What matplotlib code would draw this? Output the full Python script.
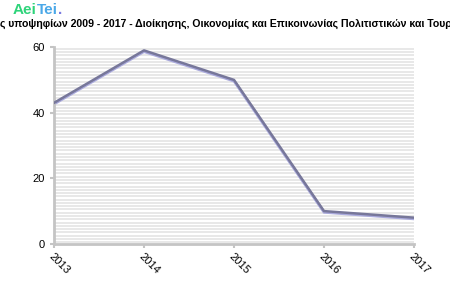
import matplotlib
matplotlib.use('Agg')
import matplotlib.pyplot as plt
import matplotlib.transforms as mtransforms

plt.rcParams['font.family'] = ['Liberation Sans', 'DejaVu Sans']

years = ['2013', '2014', '2015', '2016', '2017']
values = [43, 59, 50, 10, 8]
title = 'Βάσεις υποψηφίων 2009 - 2017 - Διοίκησης, Οικονομίας και Επικοινωνίας Πολιτιστικών και Τουριστικών Μονάδων'

fig = plt.figure(figsize=(4.5, 3), dpi=100)
ax = fig.add_axes([0.12, 0.187, 0.80, 0.656])

x = list(range(len(years)))

# striped background
for k in range(0, 60):
    ax.axhline(k + 0.5, color='#e8e8e8', lw=1.4, zorder=0)

# shadow line then main line
shadow = mtransforms.offset_copy(ax.transData, fig=fig, x=0, y=-1.2, units='dots')
ax.plot(x, values, color='#aaaadd', lw=2, transform=shadow, zorder=2)
ax.plot(x, values, color='#77779a', lw=1.8, zorder=3)

ax.set_xlim(0, 4)
ax.set_ylim(0, 60)
ax.set_yticks([0, 20, 40, 60])
ax.set_xticks(x)
ax.set_xticklabels(years, rotation=-45, ha='left', va='top', rotation_mode='anchor')

for s in ['top', 'right']:
    ax.spines[s].set_visible(False)
for s in ['left', 'bottom']:
    ax.spines[s].set_color('#c4c4c4')
    ax.spines[s].set_linewidth(2)
ax.tick_params(colors='#c4c4c4', labelcolor='black', labelsize=8, length=3, width=1.5)
ax.tick_params(axis='x', pad=2)

fig.text(-0.065, 0.922, title, ha='left', va='center', fontsize=7.6, fontweight='bold')

fig.text(0.027, 0.965, 'Aei', ha='left', va='center', fontsize=11, fontweight='bold', color='#2ed47a')
fig.text(0.083, 0.965, 'Tei', ha='left', va='center', fontsize=11, fontweight='bold', color='#4aa8e8')
fig.text(0.128, 0.965, '.', ha='left', va='center', fontsize=11, fontweight='bold', color='#7a7ae0')

fig.savefig('out.png', dpi=100)
